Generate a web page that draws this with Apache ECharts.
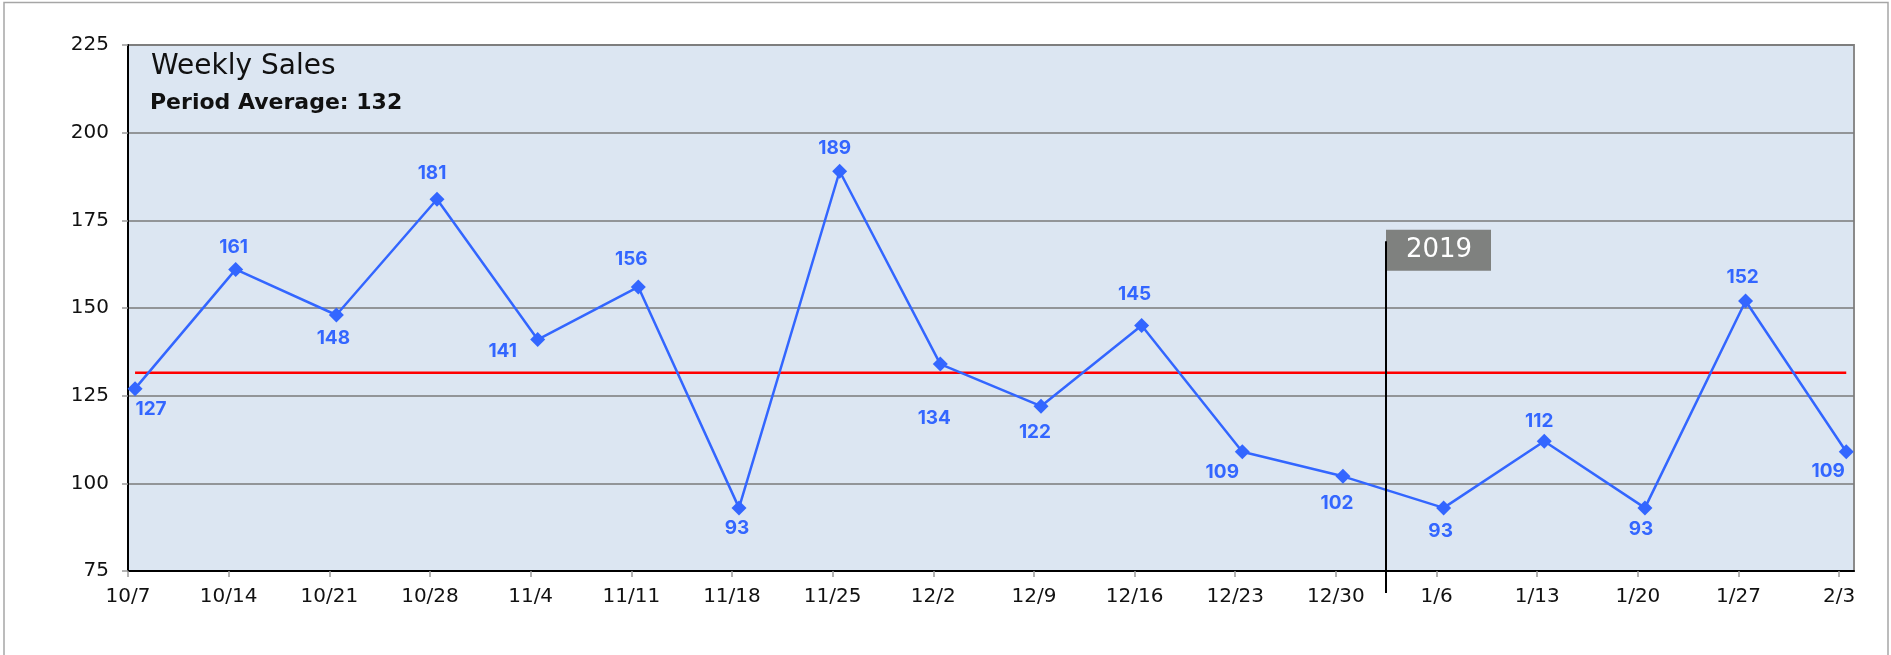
<!DOCTYPE html>
<html>
<head>
<meta charset="utf-8">
<script src="https://cdn.jsdelivr.net/npm/echarts@6/dist/echarts.min.js"></script>
<style>
  html, body { margin: 0; padding: 0; background: #ffffff; }
  #chart { width: 1891px; height: 655px; }
</style>
</head>
<body>
<div id="chart"></div>
<script>
// ---- data ----
const weekLabels = ['10/7','10/14','10/21','10/28','11/4','11/11','11/18','11/25','12/2','12/9','12/16','12/23','12/30','1/6','1/13','1/20','1/27','2/3'];
const weeklySales = [127,161,148,181,141,156,93,189,134,122,145,109,102,93,112,93,152,109];
const periodAverage = 131.5;
const periodAverageLabel = 132;
const yTicks = [75,100,125,150,175,200,225];
const yearMarker = { afterIndex: 12, label: '2019', top: 169 };

// ---- label placement (pixel offsets from each point) ----
const labelOffsets = [[16,21],[-2,-22],[-3,23],[-5,-26],[-35,12],[-7,-28],[-2,20],[-5,-23],[-6,54],[-6,26],[-7,-31],[-20,21],[-6,27],[-3,23],[-5,-20],[-4,21],[-3,-24],[-18,20]];

const WIDE = '"DejaVu Sans", sans-serif';
const FONT = 'Inter, "DejaVu Sans", sans-serif';
const BLUE = '#3366ff';
const tickShift = 0.07;
const tickValues = weekLabels.map((_, i) => i - tickShift);

const chart = echarts.init(document.getElementById('chart'), null, { renderer: 'canvas' });

const option = {
  backgroundColor: '#ffffff',
  animation: false,
  title: [
    { text: 'Weekly Sales', left: 151, top: 53, padding: 0,
      textStyle: { fontFamily: WIDE, fontSize: 28, fontWeight: 'normal', color: '#111' } },
    { text: 'Period Average: ' + periodAverageLabel, left: 150, top: 92, padding: 0,
      textStyle: { fontFamily: WIDE, fontSize: 22, fontWeight: 'bold', color: '#111' } }
  ],
  graphic: [
    { type: 'rect', silent: true, z: -10,
      shape: { x: 4, y: 2.5, width: 1884, height: 700 },
      style: { fill: 'none', stroke: '#a6a6a6', lineWidth: 1.5 } }
  ],
  grid: {
    left: 128, right: 37, top: 45, bottom: 84,
    show: true, backgroundColor: '#dce6f2', borderColor: '#8a8a8a', borderWidth: 2
  },
  xAxis: {
    type: 'value',
    min: -tickShift,
    max: 17.077,
    splitLine: { show: false },
    axisLine: { show: true, onZero: false, lineStyle: { color: '#000', width: 2 } },
    axisTick: { show: true, customValues: tickValues, length: 6, lineStyle: { color: '#999', width: 1.5 } },
    axisLabel: {
      customValues: tickValues, margin: 16,
      fontFamily: WIDE, fontSize: 20, color: '#111',
      formatter: v => weekLabels[Math.round(v + tickShift)] || ''
    }
  },
  yAxis: {
    type: 'value',
    min: yTicks[0], max: yTicks[yTicks.length - 1], interval: yTicks[1] - yTicks[0],
    axisLine: { show: true, onZero: false, lineStyle: { color: '#000', width: 2 } },
    axisTick: { show: true, length: 6, lineStyle: { color: '#999', width: 1.5 } },
    axisLabel: { margin: 19, fontFamily: WIDE, fontSize: 20, color: '#111' },
    splitLine: { show: true, lineStyle: { color: '#7a7a7a', width: 1.5 } }
  },
  series: [
    {
      type: 'line',
      name: 'Average',
      data: [[0, periodAverage], [weeklySales.length - 1, periodAverage]],
      symbol: 'none',
      lineStyle: { color: '#ff0000', width: 2.5 },
      z: 3,
      silent: true
    },
    {
      type: 'line',
      name: 'Weekly Sales',
      data: weeklySales.map((v, i) => ({
        value: [i, v],
        label: { offset: labelOffsets[i] }
      })),
      symbol: 'diamond',
      symbolSize: 15,
      itemStyle: { color: BLUE },
      lineStyle: { color: BLUE, width: 2.5 },
      label: {
        show: true, position: 'inside',
        fontFamily: FONT, fontSize: 19, fontWeight: 700, color: BLUE,
        formatter: p => p.value[1]
      },
      z: 4
    },
    {
      type: 'custom',
      name: 'Year marker',
      clip: false,
      silent: true,
      z: 5,
      data: [[ (yearMarker.afterIndex + yearMarker.afterIndex + 1) / 2 - tickShift, yearMarker.top ]],
      renderItem: function (params, api) {
        const top = api.coord([api.value(0), api.value(1)]);
        const bottom = api.coord([api.value(0), yTicks[0]]);
        const x = Math.round(top[0]);
        return {
          type: 'group',
          children: [
            { type: 'rect', shape: { x: x, y: top[1] - 11.5, width: 105, height: 41 },
              style: { fill: '#7f817f' } },
            { type: 'text', style: { text: yearMarker.label, x: x + 53, y: top[1] + 9,
                align: 'center', verticalAlign: 'middle',
                fontFamily: WIDE, fontSize: 26, fill: '#ffffff' } },
            { type: 'line', shape: { x1: x, y1: top[1], x2: x, y2: bottom[1] + 22 },
              style: { stroke: '#000', lineWidth: 2 } }
          ]
        };
      }
    }
  ]
};

chart.setOption(option);
</script>
</body>
</html>
